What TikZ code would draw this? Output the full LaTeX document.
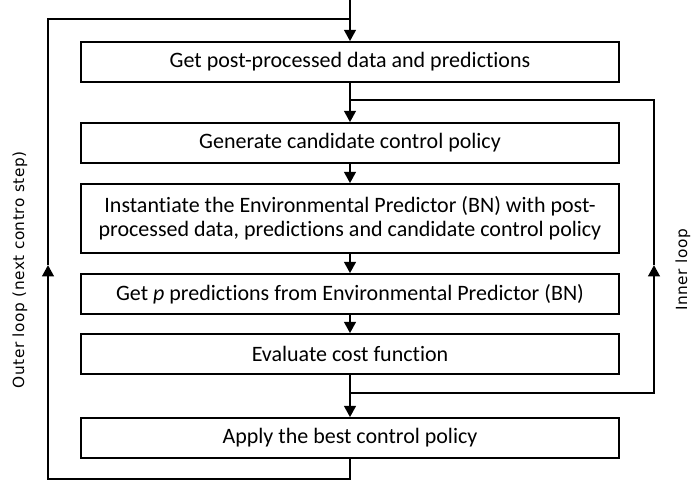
\documentclass[tikz,border=0pt]{standalone}
\usepackage{fontspec}
\setmainfont[Ligatures={NoCommon}]{Carlito}
\newfontfamily\labfont[LetterSpace=3.5]{DejaVu Sans}
\usetikzlibrary{arrows.meta}
\begin{document}
\begin{tikzpicture}[x=0.75pt,y=-0.75pt,
  box/.style={draw,line width=1.1pt,minimum width=403.5pt,minimum height=30pt,
    inner sep=0pt,align=center,font=\fontsize{16.5}{18}\selectfont},
  flow/.style={line width=2.1pt},
  arr/.style={flow,-{Triangle[length=8.5pt,width=8.5pt]}},
  lab/.style={font=\labfont\fontsize{11.5}{13}\selectfont,rotate=90}]
\useasboundingbox (0,0) rectangle (692,484);
\node[box] (b1) at (350,62) {Get post-processed data and predictions};
\node[box] (b2) at (350,143) {Generate candidate control policy};
\node[box,minimum height=51.75pt] (b3) at (350,218.5)
  {Instantiate the Environmental Predictor (BN) with post-\\processed data, predictions and candidate control policy};
\node[box] (b4) at (350,294) {Get \textit{p} predictions from Environmental Predictor (BN)};
\node[box] (b5) at (350,354) {Evaluate cost function};
\node[box] (b6) at (350,438) {Apply the best control policy};
\coordinate (top) at (350,0);
\coordinate (otr) at (350,19);
\coordinate (otl) at (48,19);
\coordinate (obl) at (48,479);
\coordinate (oar) at (48,265);
\coordinate (itr) at (654,100);
\coordinate (itl) at (350,100);
\coordinate (ibr) at (654,393);
\coordinate (iar) at (654,265);
\draw[arr] (top) -- (b1.north);
\draw[arr] (b1.south) -- (b2.north);
\draw[arr] (b2.south) -- (b3.north);
\draw[arr] (b3.south) -- (b4.north);
\draw[arr] (b4.south) -- (b5.north);
\draw[arr] (b5.south) -- (b6.north);
\draw[arr] (b5.south) |- (ibr) -- (iar);
\draw[flow] (iar) -- (itr) -- (itl);
\draw[arr] (b6.south) |- (obl) -- (oar);
\draw[flow] (oar) -- (otl) -- (otr);
\node[lab] (outer) at (20,270) {Outer loop (next contro step)};
\node[lab] (inner) at (683,270) {Inner loop};
\end{tikzpicture}
\end{document}
